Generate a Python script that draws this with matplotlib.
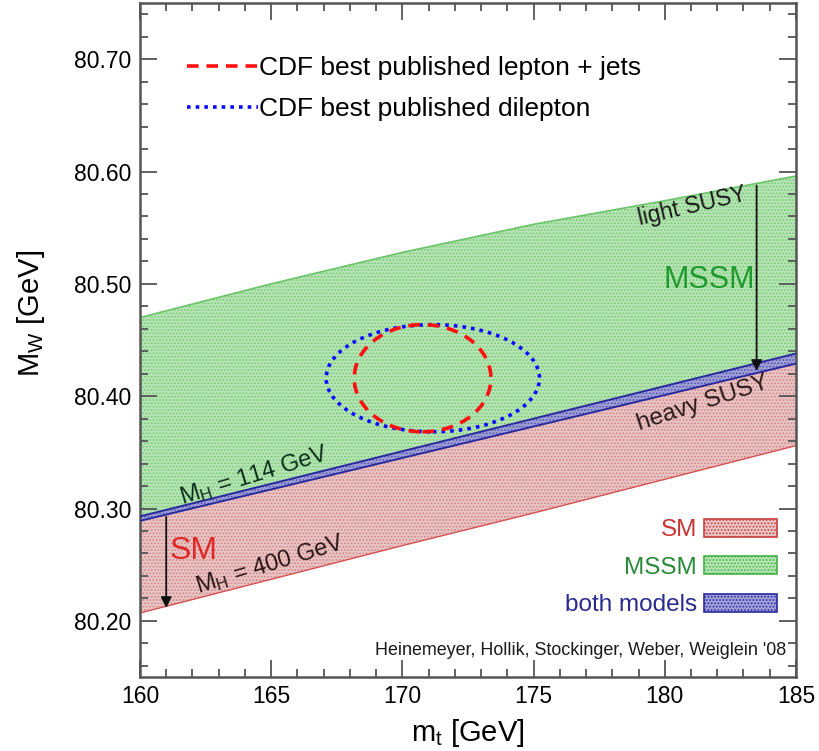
import matplotlib
matplotlib.use("Agg")
import matplotlib.pyplot as plt
from matplotlib.patches import Ellipse, Patch
from matplotlib.lines import Line2D
from matplotlib.ticker import MultipleLocator, FormatStrFormatter

plt.rcParams['font.family'] = ['Liberation Sans', 'DejaVu Sans']
plt.rcParams['mathtext.fontset'] = 'custom'
plt.rcParams['mathtext.rm'] = 'Liberation Sans'
plt.rcParams['mathtext.it'] = 'Liberation Sans:italic'
plt.rcParams['hatch.linewidth'] = 0.8

# top mass grid [GeV]
mt = [160, 165, 170, 175, 180, 185]
# SM band: M_H = 114 GeV (upper) and M_H = 400 GeV (lower)
sm_upper = [80.293, 80.322, 80.351, 80.380, 80.409, 80.438]
sm_lower = [80.207, 80.237, 80.267, 80.296, 80.326, 80.356]
# MSSM band: light SUSY (upper) and heavy SUSY (lower)
mssm_upper = [80.470, 80.500, 80.528, 80.553, 80.574, 80.596]
mssm_lower = [80.289, 80.317, 80.345, 80.373, 80.401, 80.429]

# CDF measurements (centre, full widths)
ljets_center = (170.77, 80.416)
ljets_size = (5.21, 0.0954)
dilep_center = (171.16, 80.416)
dilep_size = (8.13, 0.0954)

fig = plt.figure(figsize=(8.2, 7.51), dpi=100)
ax = fig.add_axes([0.1707, 0.0985, 0.80, 0.8975])

# bands
ax.fill_between(mt, mssm_lower, mssm_upper, facecolor='#b6e4b4', edgecolor='#78c876',
                hatch='.....', lw=0, zorder=1)
ax.plot(mt, mssm_upper, color='#6cc46a', lw=1.2, zorder=2)
ax.fill_between(mt, sm_lower, sm_upper, facecolor='#eac4c4', edgecolor='#cc8686',
                hatch='.....', lw=0, zorder=1)
ax.plot(mt, sm_lower, color='#d85050', lw=1.0, zorder=2)
ax.fill_between(mt, mssm_lower, sm_upper, facecolor='#a0a0d8', edgecolor='#5050aa',
                hatch='.....', lw=0, zorder=2)
ax.plot(mt, sm_upper, color='#2a2aa0', lw=1.4, zorder=3)
ax.plot(mt, mssm_lower, color='#2a2aa0', lw=1.4, zorder=3)

# ellipses
ax.add_patch(Ellipse(dilep_center, dilep_size[0], dilep_size[1], fill=False,
                     edgecolor='#0a0aff', lw=2.6, linestyle=(0, (1, 1.4)), zorder=5))
ax.add_patch(Ellipse(ljets_center, ljets_size[0], ljets_size[1], fill=False,
                     edgecolor='#ff1010', lw=2.6, linestyle=(0, (3.2, 2.2)), zorder=6))

# arrows
ax.annotate('', xy=(183.5, 80.420), xytext=(183.5, 80.590),
            arrowprops=dict(arrowstyle='-|>', color='#111111', lw=1.3, mutation_scale=16),
            zorder=7)
ax.annotate('', xy=(161.0, 80.209), xytext=(161.0, 80.295),
            arrowprops=dict(arrowstyle='-|>', color='#111111', lw=1.3, mutation_scale=16),
            zorder=7)

# annotations in the plot
ax.text(181.05, 80.569, 'light SUSY', rotation=13, ha='center', va='center',
        rotation_mode='anchor', fontsize=16.5, color='#1a1a1a', zorder=8)
ax.text(181.7, 80.503, 'MSSM', ha='center', va='center', fontsize=22,
        color='#1f9a2c', zorder=8)
ax.text(181.45, 80.394, 'heavy SUSY', rotation=18, ha='center', va='center',
        rotation_mode='anchor', fontsize=17.5, color='#2a1a1a', zorder=8)
ax.text(164.35, 80.329, r'M$_{\rm H}$ = 114 GeV', rotation=17, ha='center', va='center',
        rotation_mode='anchor', fontsize=17, color='#0c2f1c', zorder=8)
ax.text(164.95, 80.250, r'M$_{\rm H}$ = 400 GeV', rotation=17, ha='center', va='center',
        rotation_mode='anchor', fontsize=17, color='#2a1515', zorder=8)
ax.text(162.05, 80.262, 'SM', ha='center', va='center', fontsize=23,
        color='#e02828', zorder=8)
ax.text(0.985, 0.040, "Heinemeyer, Hollik, Stockinger, Weber, Weiglein '08",
        transform=ax.transAxes, ha='right', va='center', fontsize=12.9,
        color='#1a1a1a', zorder=8)

# legend for the CDF ellipses
cdf_handles = [
    Line2D([], [], color='#ff1010', lw=2.6, linestyle=(0, (3.2, 2.2))),
    Line2D([], [], color='#0a0aff', lw=2.6, linestyle=(0, (1, 1.4))),
]
leg1 = ax.legend(cdf_handles, ['CDF best published lepton + jets', 'CDF best published dilepton'],
                 loc='upper left', bbox_to_anchor=(0.055, 0.937), frameon=False,
                 fontsize=19, handlelength=2.7, handletextpad=0.05, labelspacing=0.65,
                 borderaxespad=0)
ax.add_artist(leg1)

# legend for the bands
band_handles = [
    Patch(facecolor='#eac4c4', edgecolor='#c84040', hatch='.....', lw=1.2),
    Patch(facecolor='#b6e4b4', edgecolor='#46b446', hatch='.....', lw=1.2),
    Patch(facecolor='#a0a0d8', edgecolor='#2a2aa0', hatch='.....', lw=1.2),
]
leg2 = ax.legend(band_handles, ['SM', 'MSSM', 'both models'], loc='lower right',
                 bbox_to_anchor=(0.986, 0.076), frameon=False, fontsize=17.5,
                 markerfirst=False, handlelength=3.0, handleheight=0.75,
                 handletextpad=0.3, labelspacing=0.62, borderaxespad=0,
                 labelcolor=['#c83434', '#2a8a3a', '#2a2a8e'])

# axes styling
ax.set_xlim(160, 185)
ax.set_ylim(80.15, 80.75)
ax.xaxis.set_major_locator(MultipleLocator(5))
ax.xaxis.set_minor_locator(MultipleLocator(1))
ax.set_yticks([80.2, 80.3, 80.4, 80.5, 80.6, 80.7])
ax.yaxis.set_minor_locator(MultipleLocator(0.02))
ax.yaxis.set_major_formatter(FormatStrFormatter('%.2f'))
ax.tick_params(which='both', direction='in', top=True, right=True, color='#555555',
               labelsize=16.5, width=1.3)
ax.tick_params(which='major', length=12, pad=6)
ax.tick_params(which='minor', length=6)
for s in ax.spines.values():
    s.set_color('#555555')
    s.set_linewidth(1.8)

ax.set_xlabel(r'm$_{\rm t}$ [GeV]', fontsize=21, labelpad=6)
ax.set_ylabel(r'M$_{\rm W}$ [GeV]', fontsize=21)
ax.yaxis.set_label_coords(-0.142, 0.540)

fig.savefig('out.png', dpi=100)
